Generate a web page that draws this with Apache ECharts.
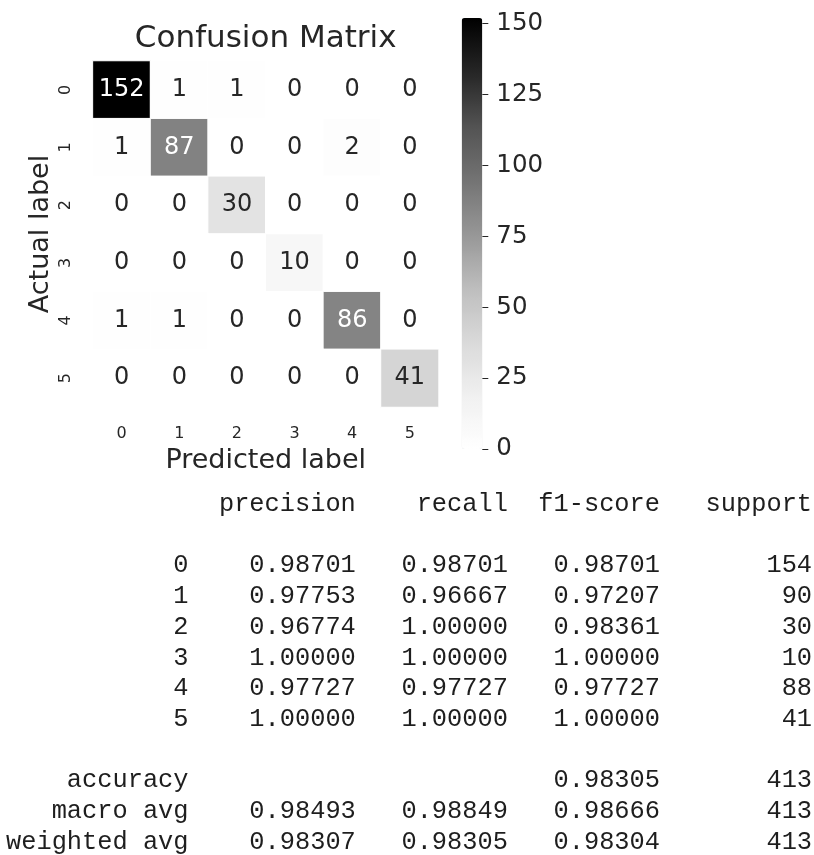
<!DOCTYPE html>
<html>
<head>
<meta charset="utf-8">
<title>Confusion Matrix</title>
<script src="https://cdn.jsdelivr.net/npm/echarts@6/dist/echarts.min.js"></script>
<style>
  html, body { margin: 0; padding: 0; background: #ffffff; }
  #chart { width: 814px; height: 855px; }
</style>
</head>
<body>
<div id="chart"></div>
<script>
// Class labels shared by both axes of the matrix and by the report rows
const classLabels = ['0', '1', '2', '3', '4', '5'];

// Confusion matrix counts: rows = actual class, columns = predicted class
const confusion = [
  [152, 1, 1, 0, 0, 0],
  [1, 87, 0, 0, 2, 0],
  [0, 0, 30, 0, 0, 0],
  [0, 0, 0, 10, 0, 0],
  [1, 1, 0, 0, 86, 0],
  [0, 0, 0, 0, 0, 41]
];

// Per-class metrics of the classification report
const precision = [0.98701, 0.97753, 0.96774, 1.00000, 0.97727, 1.00000];
const recall    = [0.98701, 0.96667, 1.00000, 1.00000, 0.97727, 1.00000];
const f1Score   = [0.98701, 0.97207, 0.98361, 1.00000, 0.97727, 1.00000];
const support   = [154, 90, 30, 10, 88, 41];

// Summary rows of the report
const accuracy = 0.98305;
const totalSupport = 413;
const macroAvg = [0.98493, 0.98849, 0.98666];
const weightedAvg = [0.98307, 0.98305, 0.98304];

// Colour scale (matplotlib "Greys") and its range
const greys = ['#ffffff', '#f0f0f0', '#d9d9d9', '#bdbdbd', '#969696',
               '#737373', '#525252', '#252525', '#000000'];
const scaleMin = 0;
const scaleMax = 152;
const colorbarStep = 25;

const textDark = '#262626';
const sansFont = '"DejaVu Sans", sans-serif';
const monoFont = '"Liberation Mono", "DejaVu Sans Mono", monospace';

// Pick white or dark annotation text depending on cell luminance
function annotColor(v) {
  const t = (v - scaleMin) / (scaleMax - scaleMin);
  const rgba = echarts.color.parse(echarts.color.lerp(t, greys));
  const lin = rgba.slice(0, 3).map(function (c) {
    c /= 255;
    return c <= 0.03928 ? c / 12.92 : Math.pow((c + 0.055) / 1.055, 2.4);
  });
  const lum = 0.2126 * lin[0] + 0.7152 * lin[1] + 0.0722 * lin[2];
  return lum > 0.408 ? textDark : '#ffffff';
}

const cells = [];
confusion.forEach(function (row, r) {
  row.forEach(function (v, c) {
    cells.push({ value: [c, r, v], label: { color: annotColor(v) } });
  });
});

// Text classification report laid out in fixed-width columns
function padL(s, n) { s = String(s); while (s.length < n) s = ' ' + s; return s; }
function fmt(v) { return v.toFixed(5); }
const nameW = 12;
const lines = [];
lines.push(padL('', nameW) + ' ' + [' precision', '    recall', '  f1-score', '   support'].join(''));
lines.push('');
classLabels.forEach(function (name, i) {
  lines.push(padL(name, nameW) + ' ' +
    padL(fmt(precision[i]), 10) + padL(fmt(recall[i]), 10) +
    padL(fmt(f1Score[i]), 10) + padL(support[i], 10));
});
lines.push('');
lines.push(padL('accuracy', nameW) + ' ' + padL('', 10) + padL('', 10) +
  padL(fmt(accuracy), 10) + padL(totalSupport, 10));
lines.push(padL('macro avg', nameW) + ' ' + macroAvg.map(function (v) { return padL(fmt(v), 10); }).join('') +
  padL(totalSupport, 10));
lines.push(padL('weighted avg', nameW) + ' ' + weightedAvg.map(function (v) { return padL(fmt(v), 10); }).join('') +
  padL(totalSupport, 10));
const reportText = lines.join('\n');

const chart = echarts.init(document.getElementById('chart'), null, { renderer: 'canvas' });

chart.setOption({
  backgroundColor: '#ffffff',
  animation: false,
  title: {
    text: 'Confusion Matrix',
    left: 265.7,
    top: 23,
    padding: 0,
    textAlign: 'center',
    textStyle: { fontFamily: sansFont, fontSize: 31, fontWeight: 'normal', color: textDark }
  },
  grid: [
    { left: 92.9, top: 61, width: 345.7, height: 346 },
    { left: 461.7, top: 18, width: 20.6, height: 431 }
  ],
  xAxis: [
    {
      type: 'category',
      gridIndex: 0,
      data: classLabels,
      position: 'bottom',
      name: 'Predicted label',
      nameLocation: 'middle',
      nameGap: 40,
      nameTextStyle: { fontFamily: sansFont, fontSize: 27, color: textDark },
      axisLine: { show: false },
      axisTick: { show: false },
      splitLine: { show: false },
      axisLabel: { fontFamily: sansFont, fontSize: 16, color: textDark, margin: 19 }
    },
    { type: 'value', gridIndex: 1, show: false, min: 0, max: 1 }
  ],
  yAxis: [
    {
      type: 'category',
      gridIndex: 0,
      data: classLabels,
      inverse: true,
      name: 'Actual label',
      nameLocation: 'middle',
      nameRotate: 90,
      nameGap: 38,
      nameTextStyle: { fontFamily: sansFont, fontSize: 27, color: textDark },
      axisLine: { show: false },
      axisTick: { show: false },
      splitLine: { show: false },
      axisLabel: { fontFamily: sansFont, fontSize: 16, color: textDark, rotate: 90, margin: 19 }
    },
    {
      type: 'value',
      gridIndex: 1,
      position: 'right',
      min: scaleMin,
      max: scaleMax,
      interval: colorbarStep,
      axisLine: { show: false, onZero: false },
      splitLine: { show: false },
      axisTick: { show: true, inside: false, length: 6, lineStyle: { color: textDark, width: 1 } },
      axisLabel: { fontFamily: sansFont, fontSize: 24.5, color: textDark, margin: 14,
        showMaxLabel: false, showMinLabel: true }
    }
  ],
  visualMap: {
    type: 'continuous',
    seriesIndex: 0,
    min: scaleMin,
    max: scaleMax,
    orient: 'vertical',
    left: 461.7,
    top: 18,
    padding: 0,
    itemWidth: 20.6,
    itemHeight: 431,
    calculable: false,
    hoverLink: false,
    showLabel: false,
    text: null,
    inRange: { color: greys }
  },
  series: [
    {
      type: 'heatmap',
      xAxisIndex: 0,
      yAxisIndex: 0,
      data: cells,
      itemStyle: { borderColor: '#ffffff', borderWidth: 1 },
      label: { show: true, fontFamily: sansFont, fontSize: 24, formatter: function (p) { return p.value[2]; } },
      emphasis: { disabled: true }
    }
  ],
  graphic: [
    {
      type: 'text',
      left: 6,
      top: 489,
      silent: true,
      style: {
        text: reportText,
        fontFamily: monoFont,
        fontSize: 25.35,
        lineHeight: 30.7,
        fill: '#1e1e1e'
      }
    }
  ]
});
</script>
</body>
</html>
